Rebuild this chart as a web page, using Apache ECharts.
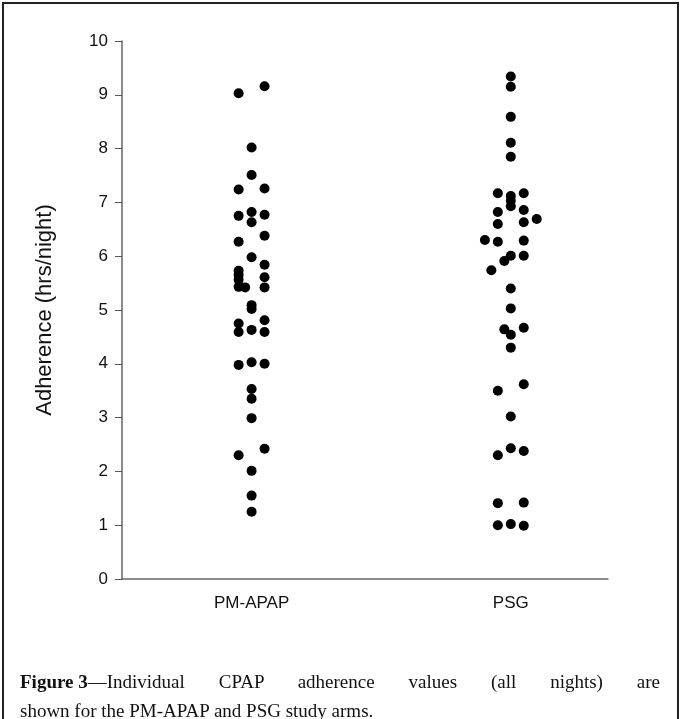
<!DOCTYPE html>
<html>
<head>
<meta charset="utf-8">
<script src="https://cdn.jsdelivr.net/npm/echarts@6/dist/echarts.min.js"></script>
<style>
  body { margin: 0; background: #fff; }
  #wrap { position: relative; width: 681px; height: 719px; overflow: hidden; }
  #chart { position: absolute; left: 0; top: 0; width: 681px; height: 719px; }
  .cap { position: absolute; left: 20px; width: 640px; font-family: 'Liberation Serif', serif; font-size: 19px; color: #111; line-height: 24px; }
  #cap1 { top: 670px; text-align: justify; text-align-last: justify; }
  #cap2 { top: 699px; }
  .fig { display: inline-block; white-space: nowrap; font-weight: bold; }
</style>
</head>
<body>
<div id="wrap">
  <div id="chart"></div>
  <div class="cap" id="cap1"><span class="fig">Figure 3</span>—Individual CPAP adherence values (all nights) are</div>
  <div class="cap" id="cap2">shown for the PM-APAP and PSG study arms.</div>
</div>
<script>
// study arms and tick labels
const arms = ['PM-APAP', 'PSG']
const yTicks = [0, 1, 2, 3, 4, 5, 6, 7, 8, 9, 10]

// adherence (hrs/night) per subject, with the lane the dot sits in (jitter column)
const apapHours = [9.03, 9.16, 8.02, 7.51, 7.24, 7.26, 6.82, 6.75, 6.77, 6.63, 6.38, 6.27, 5.98, 5.84,
  5.73, 5.65, 5.56, 5.43, 5.42, 5.61, 5.42, 5.09, 5.02, 4.75, 4.59, 4.63, 4.81, 4.59,
  3.98, 4.03, 4.0, 3.53, 3.35, 2.99, 2.30, 2.42, 2.01, 1.55, 1.25]
const apapLane = [-1, 1, 0, 0, -1, 1, 0, -1, 1, 0, 1, -1, 0, 1,
  -1, -1, -1, -1, -0.5, 1, 1, 0, 0, -1, -1, 0, 1, 1,
  -1, 0, 1, 0, 0, 0, -1, 1, 0, 0, 0]

const psgHours = [9.34, 9.15, 8.59, 8.11, 7.85, 7.17, 7.12, 7.03, 6.93, 7.17, 6.82, 6.86, 6.69, 6.60,
  6.63, 6.30, 6.27, 6.29, 6.01, 5.91, 6.01, 5.74, 5.40, 5.03, 4.64, 4.54, 4.67, 4.30,
  3.50, 3.62, 3.02, 2.30, 2.43, 2.38, 1.41, 1.42, 1.0, 1.02, 0.99]
const psgLane = [0, 0, 0, 0, 0, -1, 0, 0, 0, 1, -1, 1, 2, -1,
  1, -2, -1, 1, 0, -0.5, 1, -1.5, 0, 0, -0.5, 0, 1, 0,
  -1, 1, 0, -1, 0, 1, -1, 1, -1, 0, 1]

const laneWidth = 0.05

function toPoints(hours, lanes, armIndex) {
  return hours.map((h, i) => [armIndex + 1 + lanes[i] * laneWidth, h])
}

const chart = echarts.init(document.getElementById('chart'), null, { renderer: 'canvas' })

const option = {
  animation: false,
  backgroundColor: '#fff',
  grid: { left: 122, top: 41, right: 73, bottom: 140 },
  xAxis: {
    type: 'value',
    min: 0.5,
    max: 2.375,
    interval: 0.5,
    axisLine: { lineStyle: { color: '#666', width: 1.5 } },
    axisTick: { show: false },
    splitLine: { show: false },
    axisLabel: {
      margin: 16,
      color: '#111',
      fontFamily: 'Liberation Sans',
      fontSize: 17,
      formatter: v => (Math.abs(v - Math.round(v)) < 1e-6 && arms[v - 1]) ? arms[v - 1] : ''
    }
  },
  yAxis: {
    type: 'value',
    min: yTicks[0],
    max: yTicks[yTicks.length - 1],
    interval: 1,
    name: 'Adherence (hrs/night)',
    nameLocation: 'middle',
    nameGap: 66,
    nameTextStyle: { fontFamily: 'Liberation Sans', fontSize: 22, color: '#111' },
    axisLine: { show: true, lineStyle: { color: '#666', width: 1.5 } },
    axisTick: { show: true, inside: false, length: 7, lineStyle: { color: '#555' } },
    splitLine: { show: false },
    axisLabel: { margin: 14, color: '#111', fontFamily: 'Liberation Sans', fontSize: 17 }
  },
  series: [
    {
      name: arms[0],
      type: 'scatter',
      symbolSize: 10,
      itemStyle: { color: '#000', opacity: 1 },
      data: toPoints(apapHours, apapLane, 0)
    },
    {
      name: arms[1],
      type: 'scatter',
      symbolSize: 10,
      itemStyle: { color: '#000', opacity: 1 },
      data: toPoints(psgHours, psgLane, 1)
    }
  ],
  graphic: [
    // figure frame: top, left and right edges (bottom runs off the picture)
    { type: 'polyline', shape: { points: [[3, 722], [3, 3], [678, 3], [678, 722]] }, style: { fill: null, stroke: '#222', lineWidth: 2 }, silent: true }
  ]
}

chart.setOption(option)
</script>
</body>
</html>
